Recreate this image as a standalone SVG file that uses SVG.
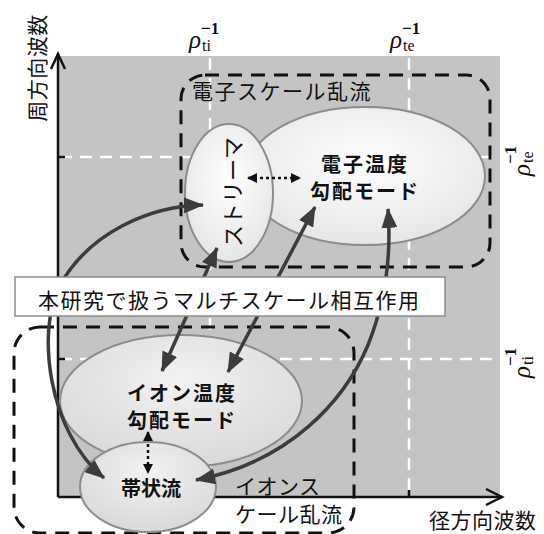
<svg xmlns="http://www.w3.org/2000/svg" width="544" height="534" viewBox="0 0 544 534">
<style>
.jp{font-family:"Noto Sans CJK JP","Noto Sans",sans-serif;fill:#111}
.lbl{font-size:20px;font-weight:bold}
.reg{font-size:21px}
.ser{font-family:"Liberation Serif","DejaVu Serif",serif;fill:#111}
.wd{stroke:#fff;stroke-width:2.5;stroke-dasharray:12 8;fill:none}
.bd{stroke:#111;stroke-width:3;stroke-dasharray:14 9;fill:none}
.ell{stroke:#8c8c8c;stroke-width:2}
.arr{stroke:#3c3c3c;stroke-width:3.5;fill:none;marker-start:url(#ah);marker-end:url(#ah)}
.dot{stroke:#111;stroke-width:2.5;stroke-dasharray:3 3;fill:none;marker-start:url(#sh);marker-end:url(#sh)}
.ax{stroke:#111;stroke-width:2.5;fill:none}
</style>
<defs>
<marker id="ah" viewBox="0 0 20 16" refX="19" refY="8" markerWidth="20" markerHeight="16" markerUnits="userSpaceOnUse" orient="auto-start-reverse">
<path d="M0,0 L20,8 L0,16 z" fill="#3c3c3c"/>
</marker>
<marker id="sh" viewBox="0 0 10 10" refX="9" refY="5" markerWidth="10" markerHeight="10" markerUnits="userSpaceOnUse" orient="auto-start-reverse">
<path d="M0,0 L10,5 L0,10 z" fill="#111"/>
</marker>
<radialGradient id="gW" cx="0.5" cy="0.4" r="0.6">
<stop offset="0" stop-color="#ffffff"/><stop offset="1" stop-color="#e6e6e6"/>
</radialGradient>
<radialGradient id="gI" cx="0.5" cy="0.35" r="0.65">
<stop offset="0" stop-color="#f2f2f2"/><stop offset="1" stop-color="#d9d9d9"/>
</radialGradient>
</defs>

<!-- background plot area -->
<rect x="58" y="56" width="442" height="441" fill="#c4c4c4"/>
<g id="grid">
<line class="wd" x1="210" y1="58" x2="210" y2="496"/>
<line class="wd" x1="409" y1="58" x2="409" y2="496"/>
<line class="wd" x1="60" y1="157" x2="499" y2="157"/>
<line class="wd" x1="60" y1="359" x2="499" y2="359"/>
</g>

<g id="axes">
<line class="ax" x1="58" y1="497" x2="58" y2="54"/>
<path class="ax" d="M51,69 L58,54 L65,69"/>
<line class="ax" x1="58" y1="497" x2="502" y2="497"/>
<path class="ax" d="M486,489 L502,497 L486,505"/>
<line class="ax" x1="58" y1="157" x2="65" y2="157"/>
<line class="ax" x1="58" y1="359" x2="65" y2="359"/>
<line class="ax" x1="210" y1="497" x2="210" y2="490"/>
<line class="ax" x1="409" y1="497" x2="409" y2="490"/>
</g>

<g id="electron-scale">
<rect class="bd" x="181" y="75" width="309" height="192" rx="24"/>
<text class="jp reg" x="192" y="99" letter-spacing="1.5">電子スケール乱流</text>
</g>
<g id="ion-scale">
<rect class="bd" x="14" y="327" width="340" height="206" rx="26"/>
<text class="jp reg" x="235" y="494" letter-spacing="0.5">イオンス</text>
<text class="jp reg" x="235" y="522" letter-spacing="0.5">ケール乱流</text>
</g>

<g id="electron-mode">
<ellipse class="ell" cx="365" cy="176" rx="120" ry="69" fill="url(#gW)"/>
<text class="jp lbl" text-anchor="middle" letter-spacing="2"><tspan x="365" y="172">電子温度</tspan><tspan x="365" y="199">勾配モード</tspan></text>
</g>
<g id="streamer">
<ellipse class="ell" cx="229" cy="193" rx="44" ry="69" fill="url(#gW)"/>
<text class="jp" font-size="22" transform="translate(231,192) rotate(-90)" text-anchor="middle" dominant-baseline="central">ストリーマ</text>
</g>
<g id="ion-mode">
<ellipse class="ell" cx="181" cy="401" rx="121" ry="66" fill="url(#gI)"/>
<text class="jp lbl" text-anchor="middle" letter-spacing="2"><tspan x="182" y="401">イオン温度</tspan><tspan x="182" y="428">勾配モード</tspan></text>
</g>
<g id="zonal-flow">
<ellipse class="ell" cx="148" cy="487" rx="68" ry="45" fill="url(#gI)"/>
<text class="jp lbl" x="151" y="496" text-anchor="middle" font-size="22">帯状流</text>
</g>

<g id="connectors">
<path class="arr" d="M104,478 C48,432 36,330 60,285 C90,232 150,206 203,205"/>
<line class="arr" x1="162" y1="371" x2="217" y2="248"/>
<line class="arr" x1="228" y1="372" x2="315" y2="207"/>
<path class="arr" d="M196,480 C290,462 345,400 368,345 C384,305 392,262 388,209"/>
<line class="dot" x1="248" y1="178" x2="300" y2="178"/>
<line class="dot" x1="148" y1="432" x2="148" y2="473"/>
</g>

<g id="banner">
<rect x="15" y="277" width="430" height="39" fill="#ffffff" stroke="#8c8c8c" stroke-width="1.5"/>
<text class="jp reg" x="38" y="308" letter-spacing="1.5">本研究で扱うマルチスケール相互作用</text>
</g>

<g id="axis-labels">
<text class="jp reg" transform="translate(36,68) rotate(-90)" text-anchor="middle" dominant-baseline="central" letter-spacing="0.5">周方向波数</text>
<text class="jp reg" x="429" y="528" letter-spacing="0.5">径方向波数</text>
</g>

<g id="rho-labels">
<g transform="translate(189,48)">
<text class="ser" font-size="25" font-style="italic" x="0" y="0">ρ</text>
<text class="ser" font-size="16" x="13" y="3">ti</text>
<text class="ser" font-size="17" font-weight="bold" x="12" y="-14">−1</text>
</g>
<g transform="translate(390,48)">
<text class="ser" font-size="25" font-style="italic" x="0" y="0">ρ</text>
<text class="ser" font-size="16" x="13" y="3">te</text>
<text class="ser" font-size="17" font-weight="bold" x="12" y="-14">−1</text>
</g>
<g transform="translate(522,158) rotate(-90)">
<text class="ser" font-size="25" font-style="italic" x="-18" y="8">ρ</text>
<text class="ser" font-size="16" x="-5" y="11">te</text>
<text class="ser" font-size="17" font-weight="bold" x="-6" y="-6">−1</text>
</g>
<g transform="translate(522,360) rotate(-90)">
<text class="ser" font-size="25" font-style="italic" x="-18" y="8">ρ</text>
<text class="ser" font-size="16" x="-5" y="11">ti</text>
<text class="ser" font-size="17" font-weight="bold" x="-6" y="-6">−1</text>
</g>
</g>
</svg>
